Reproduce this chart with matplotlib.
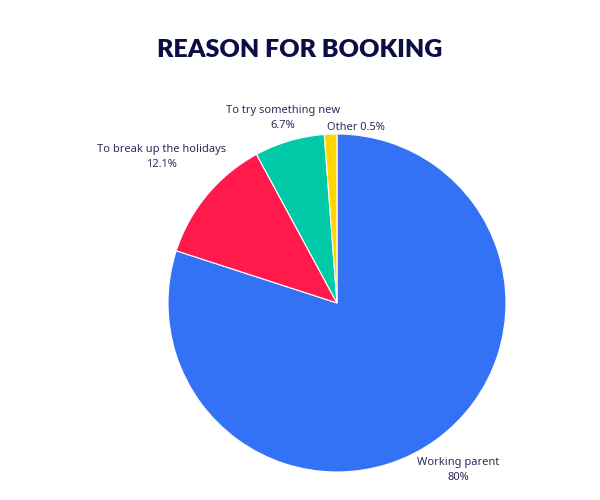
import matplotlib
matplotlib.use("Agg")
import matplotlib.pyplot as plt
import numpy as np

categories = ["Working parent", "To break up the holidays", "To try something new", "Other"]
values = [80, 12.1, 6.7, 1.2]
pct_labels = ["80%", "12.1%", "6.7%", "0.5%"]
colors = ["#3371F5", "#FF1A4B", "#00C9A7", "#FFD600"]

plt.rcParams['font.family'] = ['Noto Sans', 'DejaVu Sans']
fig = plt.figure(figsize=(6, 5), dpi=100)
fig.patch.set_facecolor("white")
ax = fig.add_axes([0.28, 0.056, 0.5633, 0.676])
wedges, _ = ax.pie(values, colors=colors, startangle=90, counterclock=False,
                   radius=1, wedgeprops=dict(edgecolor="white", linewidth=0.8))
ax.set_xlim(-1, 1)
ax.set_ylim(-1, 1)
ax.set_aspect("equal")
ax.axis("off")

txtc = "#2E2B5F"
dists = [1.22, 1.35, 1.14, 1.04]
for i, w in enumerate(wedges):
    mid = np.deg2rad((w.theta1 + w.theta2) / 2)
    x, y = dists[i] * np.cos(mid), dists[i] * np.sin(mid)
    if categories[i] == "Other":
        ax.text(x - 0.02, y, f"{categories[i]} {pct_labels[i]}", ha="left", va="center",
                fontsize=8, color=txtc, clip_on=False)
    else:
        ax.annotate(categories[i], (x, y), xytext=(0, 5.4), textcoords="offset points",
                    ha="center", va="center", fontsize=8, color=txtc, annotation_clip=False)
        ax.annotate(pct_labels[i], (x, y), xytext=(0, -5.4), textcoords="offset points",
                    ha="center", va="center", fontsize=8, color=txtc, annotation_clip=False)

fig.text(0.5, 0.9, "REASON FOR BOOKING", ha="center", va="center",
         fontsize=18, fontweight="heavy", color="#0D0D45",
         family=["Lato", "DejaVu Sans"])

fig.savefig("out.png", dpi=100, facecolor="white")
